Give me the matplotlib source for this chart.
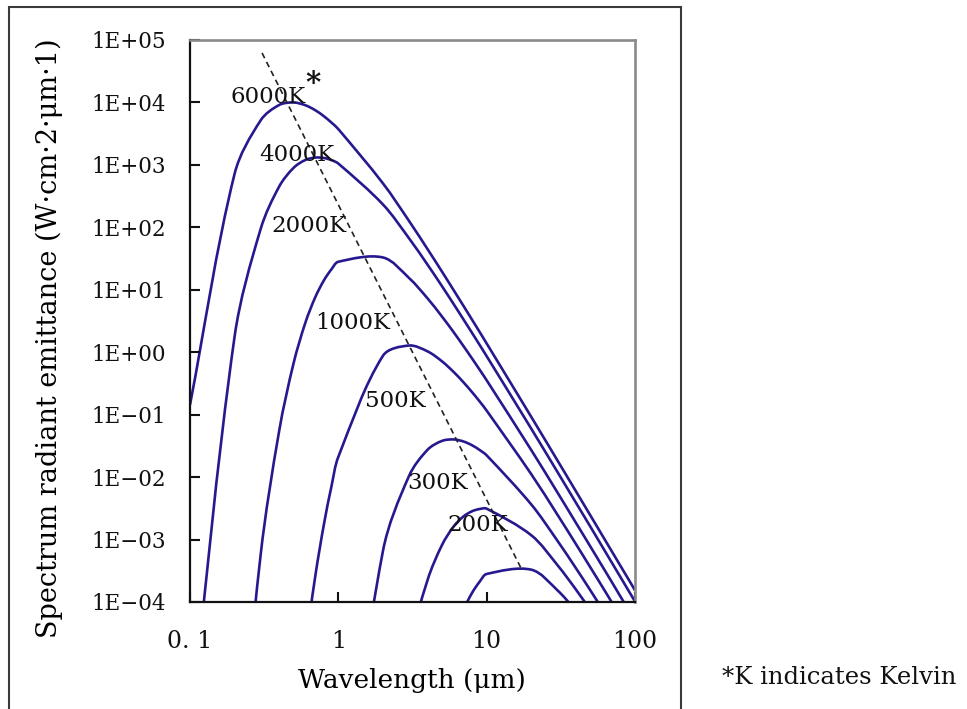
import matplotlib
matplotlib.use('Agg')
import matplotlib.pyplot as plt
import matplotlib.patches as patches
from matplotlib.path import Path
import numpy as np

nan = np.nan

# Wavelength samples (um)
wavelength = [0.1, 0.2, 0.3, 0.4, 0.5, 0.6, 0.7, 0.8, 0.9,
              1, 2, 3, 4, 5, 6, 7, 8, 9,
              10, 20, 30, 40, 50, 60, 70, 80, 90, 100]

# Spectrum radiant emittance (W cm-2 um-1)
t6000 = [0.144, 726, 5200, 9130, 9980, 9010, 7490, 6000, 4740,
         3740, 505, 126, 44.5, 19.5, 9.79, 5.45, 3.27, 2.08,
         1.38, 0.0918, 0.0185, 5.91e-3, 2.44e-3, 1.18e-3, 6.39e-4, 3.75e-4, 2.35e-4, 1.54e-4]
t4000 = [8.9e-7, 1.81, 95.6, 454, 900, 1200, 1310, 1290, 1190,
         1050, 232, 66.5, 25.1, 11.4, 5.86, 3.31, 2.01, 1.29,
         0.864, 0.0594, 0.0121, 3.88e-3, 1.61e-3, 7.79e-4, 4.22e-4, 2.48e-4, 1.55e-4, 1.02e-4]
t2000 = [nan, 2.8e-8, 5.93e-4, 0.0565, 0.676, 2.99, 7.66, 14.2, 21.4,
         28.1, 32.9, 15.4, 7.25, 3.72, 2.08, 1.24, 0.783, 0.518,
         0.355, 0.0270, 5.68e-3, 1.85e-3, 7.74e-4, 3.78e-4, 2.06e-4, 1.21e-4, 7.6e-5, 5.0e-5]
t1000 = [nan, nan, nan, nan, 3.8e-7, 1.85e-5, 2.64e-4, 1.77e-3, 7.23e-3,
         0.0211, 0.879, 1.28, 1.03, 0.714, 0.481, 0.327, 0.227, 0.161,
         0.116, 0.0111, 2.50e-3, 8.44e-4, 3.59e-4, 1.78e-4, 9.76e-5, 5.8e-5, nan, nan]
t500 = [nan, nan, nan, nan, nan, nan, nan, nan, nan,
        1.19e-8, 6.6e-4, 0.0105, 0.0275, 0.0380, 0.0401, 0.0371, 0.0322, 0.0270,
        0.0223, 3.64e-3, 9.57e-4, 3.47e-4, 1.54e-4, 7.8e-5, 4.4e-5, nan, nan, nan]
t300 = [nan, nan, nan, nan, nan, nan, nan, nan, nan,
        nan, 4.5e-8, 1.76e-5, 2.27e-4, 8.18e-4, 1.63e-3, 2.36e-3, 2.85e-3, 3.09e-3,
        3.12e-3, 1.17e-3, 3.90e-4, 1.58e-4, 7.4e-5, 3.9e-5, nan, nan, nan, nan]
t200 = [nan, nan, nan, nan, nan, nan, nan, nan, nan,
        nan, nan, nan, nan, 6.8e-6, 2.99e-5, 7.66e-5, 1.42e-4, 2.14e-4,
        2.81e-4, 3.29e-4, 1.54e-4, 7.2e-5, 3.7e-5, nan, nan, nan, nan, nan]

curves = [t6000, t4000, t2000, t1000, t500, t300, t200]

# Curve labels and where they sit (data coords)
labels = ['6000K', '4000K', '2000K', '1000K', '500K', '300K', '200K']
label_x = [0.336, 0.527, 0.634, 1.256, 2.41, 4.70, 8.75]
label_y = [1.22e4, 1.44e3, 105, 2.94, 0.165, 8.0e-3, 1.71e-3]

# Dashed line through the peaks
peak_x = [0.306, 17.3]
peak_y = [6.2e4, 3.25e-4]

xtick_vals = [0.1, 1, 10, 100]
xtick_labels = ['0. 1', '1', '10', '100']
ytick_vals = [10.0 ** k for k in range(-4, 6)]
ytick_labels = ['1E\u2212%02d' % -k if k < 0 else '1E+%02d' % k for k in range(-4, 6)]

plt.rcParams['font.family'] = ['DejaVu Serif']

fig = plt.figure(figsize=(9.67, 7.09), dpi=100)
W, H = 967, 709
ax = fig.add_axes([190 / W, (H - 602) / H, 445 / W, 562 / H])
ax.set_xscale('log')
ax.set_yscale('log')
ax.set_xlim(0.1, 100)
ax.set_ylim(1e-4, 1e5)


# smoothed line through the points (bezier, like a spreadsheet "smoothed line")
def smooth_path(xs, ys):
    xs = np.asarray(xs, float)
    ys = np.asarray(ys, float)
    ok = ~np.isnan(ys)
    pts = ax.transData.transform(np.column_stack([xs[ok], ys[ok]]))
    n = len(pts)
    d = np.hypot(*np.diff(pts, axis=0).T)
    tang = np.zeros_like(pts)
    tang[0] = (pts[1] - pts[0]) / d[0]
    tang[-1] = (pts[-1] - pts[-2]) / d[-1]
    for i in range(1, n - 1):
        tang[i] = (pts[i + 1] - pts[i - 1]) / (d[i - 1] + d[i])
    verts = [pts[0]]
    codes = [Path.MOVETO]
    for i in range(n - 1):
        verts += [pts[i] + tang[i] * d[i] / 3, pts[i + 1] - tang[i + 1] * d[i] / 3, pts[i + 1]]
        codes += [Path.CURVE4] * 3
    verts = ax.transData.inverted().transform(np.array(verts))
    return Path(verts, codes)


line_color = '#26198f'
for vals in curves:
    ax.add_patch(patches.PathPatch(smooth_path(wavelength, vals), fill=False,
                                   edgecolor=line_color, linewidth=1.9, joinstyle='round'))

ax.plot(peak_x, peak_y, color='#222222', linewidth=1.2, linestyle=(0, (3.5, 2.5)))

for txt, lx, ly in zip(labels, label_x, label_y):
    ax.text(lx, ly, txt, fontsize=16.5, ha='center', va='center', color='#111111')
ax.text(0.674, 2.0e4, '*', fontsize=21, fontweight='bold', ha='center', va='center', color='#111111')

ax.set_xticks(xtick_vals)
ax.set_xticklabels(xtick_labels)
ax.set_yticks(ytick_vals)
ax.set_yticklabels(ytick_labels)
ax.minorticks_off()
ax.tick_params(axis='both', direction='in', length=7, width=1.5, colors='#111111')
ax.tick_params(axis='y', pad=17, labelsize=15.5)
ax.tick_params(axis='x', pad=20, labelsize=17)

ax.spines['left'].set_linewidth(1.6)
ax.spines['bottom'].set_linewidth(1.6)
ax.spines['left'].set_color('#111111')
ax.spines['bottom'].set_color('#111111')
for side in ['top', 'right']:
    ax.spines[side].set_color('#8a8a8a')
    ax.spines[side].set_linewidth(1.9)

ax.set_xlabel('Wavelength (\u03bcm)', fontsize=19)
ax.xaxis.set_label_coords(0.499, -0.1174)
ax.set_ylabel('Spectrum radiant emittance (W\u00b7cm\u00b72\u00b7\u03bcm\u00b71)', fontsize=19.5)
ax.yaxis.set_label_coords(-0.285, 0.47)

# Outer frame round the chart
frame = patches.Rectangle((9 / W, -0.02), (681 - 9) / W, (H - 7) / H + 0.02,
                          transform=fig.transFigure, fill=False,
                          edgecolor='#3a3a3a', linewidth=1.5, clip_on=False)
fig.patches.append(frame)

fig.text(722 / W, 1 - 677 / H, '*K indicates Kelvin', fontsize=17.5, ha='left', va='center', color='#111111')

fig.savefig('out.png', dpi=100)
